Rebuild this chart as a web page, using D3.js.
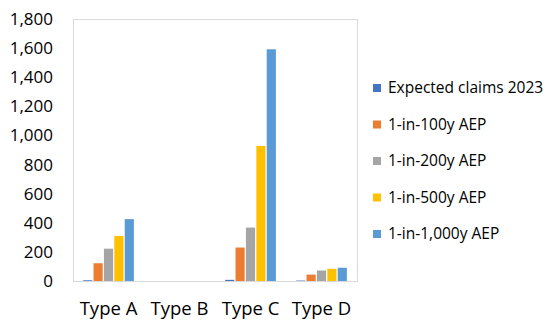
<!DOCTYPE html>
<html>
<head>
<meta charset="utf-8">
<script src="https://d3js.org/d3.v7.min.js"></script>
<style>
  body { margin: 0; background: #fff; }
  * { font-family: "Open Sans", sans-serif; }
  .axis text { fill: #000; }
  .legend text { font-size: 15.5px; fill: #000; }
</style>
</head>
<body>
<div id="chart"></div>
<script>
// chart data
var categories = ["Type A", "Type B", "Type C", "Type D"];
var seriesNames = ["Expected claims 2023", "1-in-100y AEP", "1-in-200y AEP", "1-in-500y AEP", "1-in-1,000y AEP"];
var expected2023 = [5, 0, 8, 3];
var aep100 = [122, 0, 230, 44];
var aep200 = [222, 0, 367, 72];
var aep500 = [310, 0, 928, 84];
var aep1000 = [425, 0, 1592, 91];
var yTicks = [0, 200, 400, 600, 800, 1000, 1200, 1400, 1600, 1800];
var colors = ["#4472C4", "#ED7D31", "#A5A5A5", "#FFC000", "#5B9BD5"];

var seriesValues = [expected2023, aep100, aep200, aep500, aep1000];
var rows = categories.map(function(c, i) {
  var r = { cat: c };
  seriesNames.forEach(function(s, j) { r[s] = seriesValues[j][i]; });
  return r;
});

var W = 549, H = 320;
var margin = { top: 19, left: 73, right: 192, bottom: 39 };
var width = W - margin.left - margin.right;
var height = H - margin.top - margin.bottom;

var svg = d3.select("#chart").append("svg")
  .attr("width", W).attr("height", H);

var g = svg.append("g")
  .attr("transform", "translate(" + margin.left + "," + margin.top + ")");

var x0 = d3.scaleBand().domain(categories).range([0, width])
  .paddingInner(0.25).paddingOuter(0.125);
var x1 = d3.scaleBand().domain(seriesNames).range([0, x0.bandwidth()]).padding(0.12);
var y = d3.scaleLinear().domain([0, 1800]).range([height, 0]);

// plot frame
g.append("rect")
  .attr("x", 0.5).attr("y", 0.5)
  .attr("width", width).attr("height", height)
  .attr("fill", "none").attr("stroke", "#d9d9d9");

var groups = g.selectAll(".grp")
  .data(rows).enter().append("g")
  .attr("class", "grp")
  .attr("transform", function(d) { return "translate(" + x0(d.cat) + ",0)"; });

groups.selectAll("rect")
  .data(function(d) { return seriesNames.map(function(s, j) { return { key: s, value: d[s], idx: j }; }); })
  .enter().append("rect")
  .attr("x", function(d) { return x1(d.key); })
  .attr("width", x1.bandwidth())
  .attr("y", function(d) { return y(d.value); })
  .attr("height", function(d) { return height - y(d.value); })
  .attr("fill", function(d) { return colors[d.idx]; });

// axes
var yAxis = g.append("g").attr("class", "axis")
  .call(d3.axisLeft(y).tickValues(yTicks).tickSize(0).tickPadding(20).tickFormat(d3.format(",")));
yAxis.select(".domain").remove();
yAxis.selectAll("text").style("font-size", "17px");

var xAxis = g.append("g").attr("class", "axis")
  .attr("transform", "translate(0," + height + ")")
  .call(d3.axisBottom(x0).tickSize(0).tickPadding(21));
xAxis.select(".domain").attr("stroke", "#d9d9d9");
xAxis.selectAll("text").style("font-size", "18.5px");

// legend
var legend = svg.append("g").attr("class", "legend")
  .attr("transform", "translate(373,88)");
var item = legend.selectAll("g").data(seriesNames).enter().append("g")
  .attr("transform", function(d, i) { return "translate(0," + (i * 36.5) + ")"; });
item.append("rect")
  .attr("x", 0).attr("y", -4).attr("width", 8).attr("height", 8)
  .attr("fill", function(d, i) { return colors[i]; });
item.append("text")
  .attr("x", 15).attr("dy", "0.35em")
  .text(function(d) { return d; });
</script>
</body>
</html>
